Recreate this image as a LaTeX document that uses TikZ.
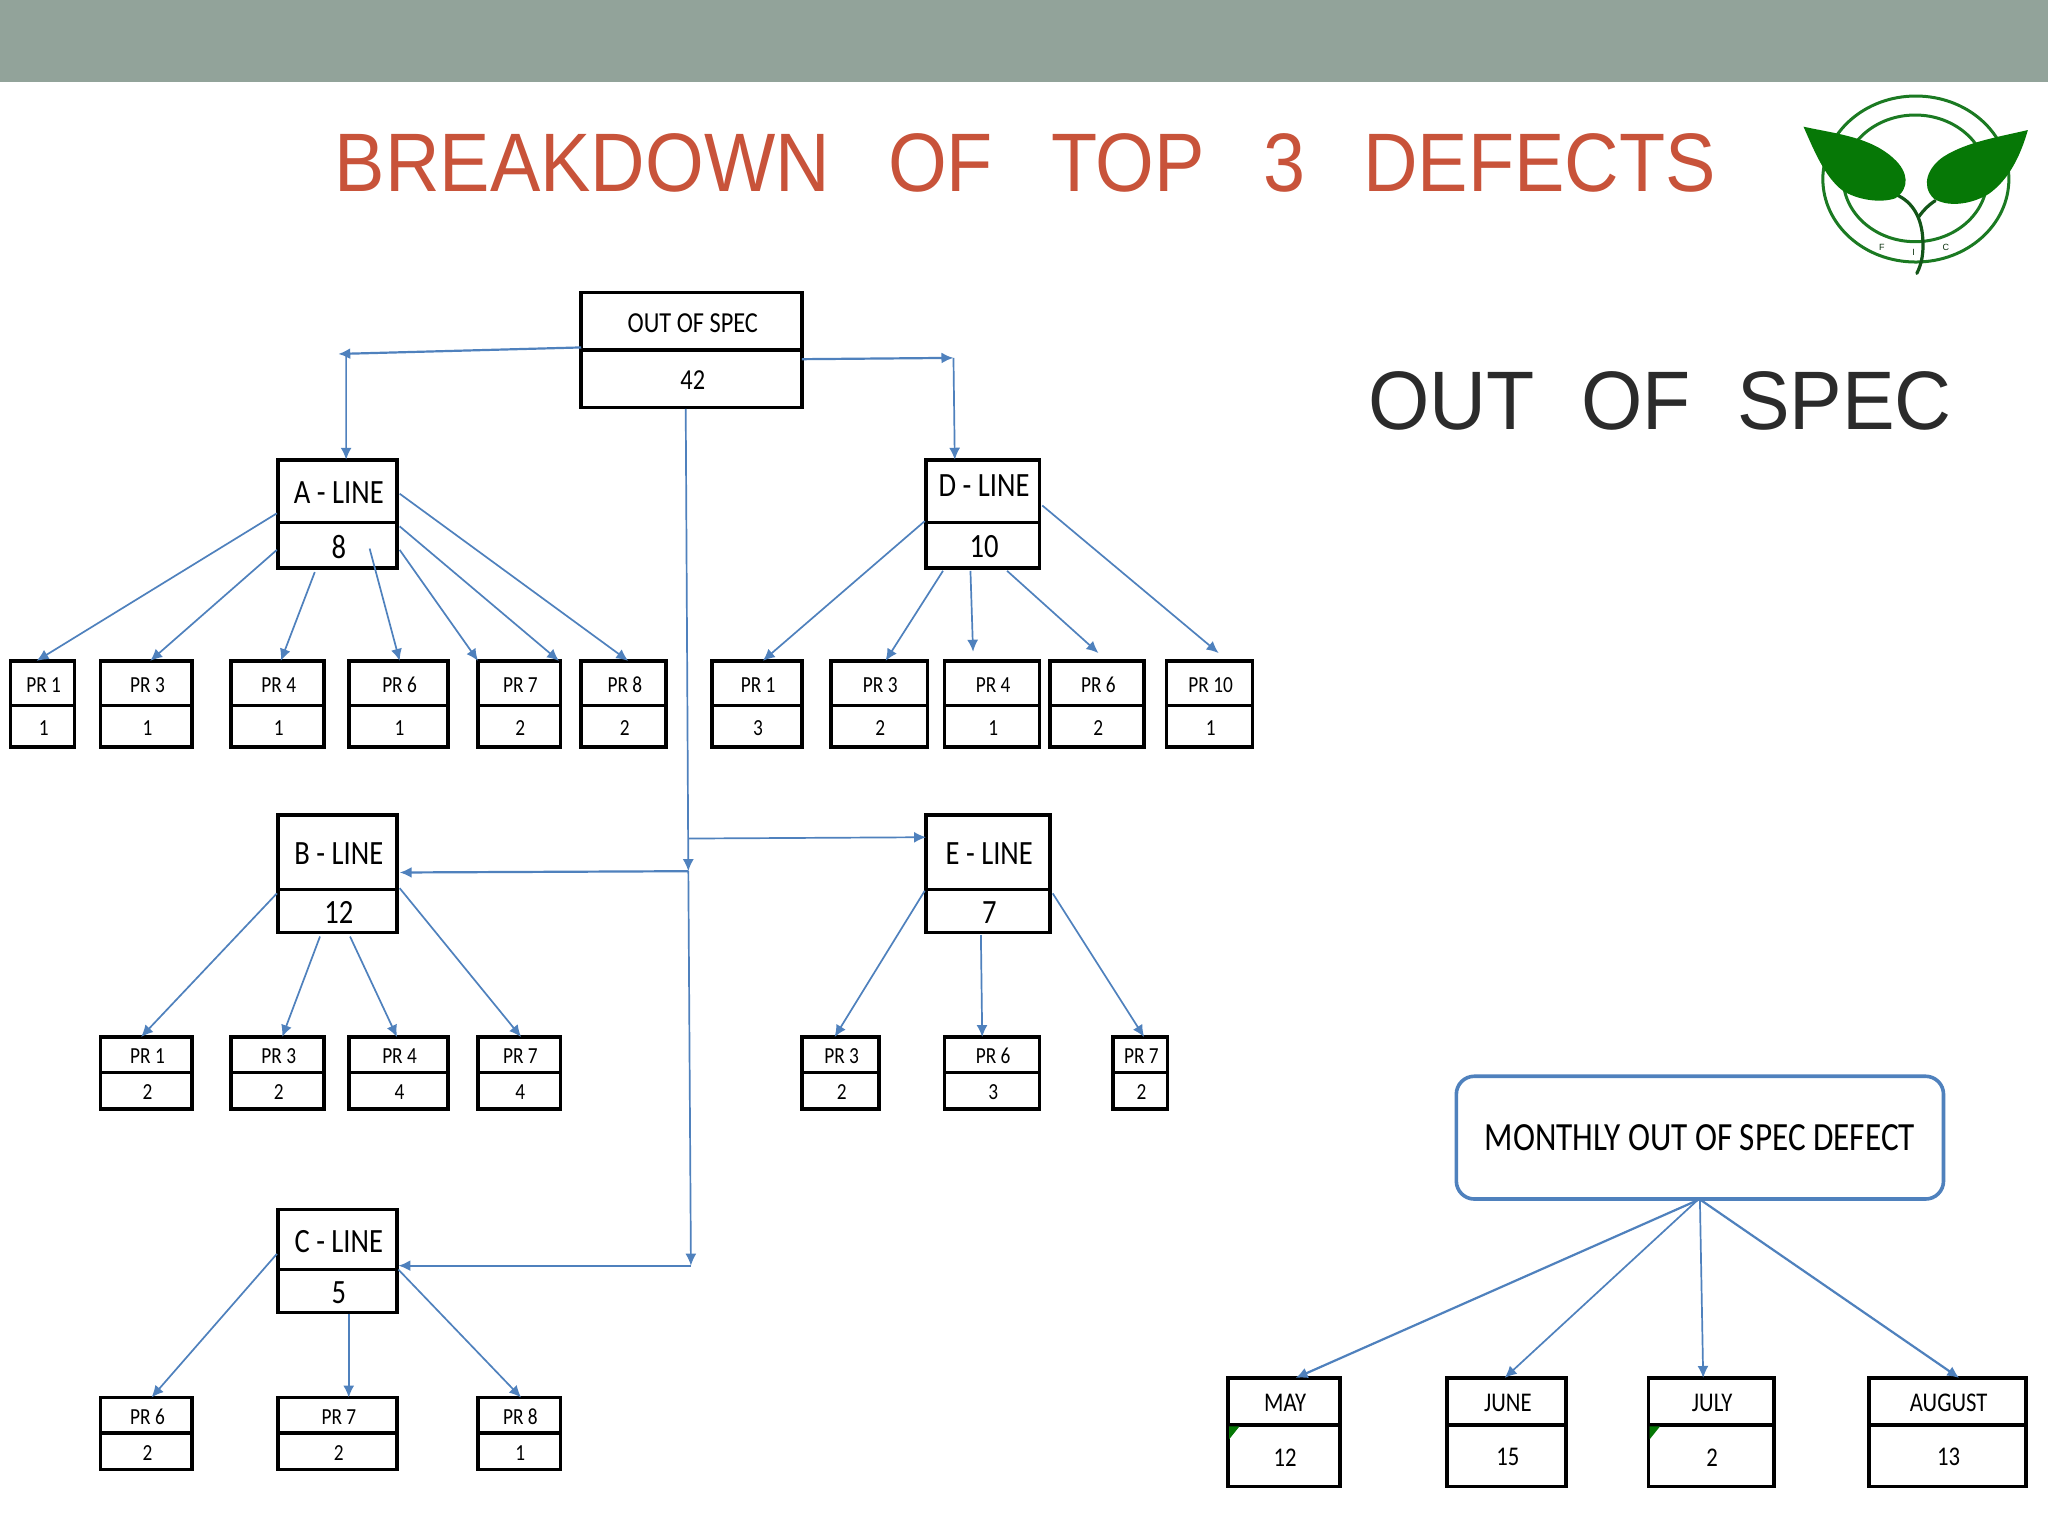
\documentclass[tikz,border=0pt]{standalone}
\usepackage{fontspec}
\setmainfont{Liberation Sans}
\newfontfamily\boxfont[FakeStretch=0.84]{Carlito}
\newfontfamily\wideboxfont[FakeStretch=0.83]{Carlito}
\newfontfamily\titlefont[FakeStretch=0.91]{Liberation Sans}
\newfontfamily\subfont[FakeStretch=0.95]{Liberation Sans}
\usetikzlibrary{arrows.meta}
\definecolor{band}{HTML}{92A39A}
\definecolor{titlered}{HTML}{C8533A}
\definecolor{darktext}{HTML}{2B2B2B}
\definecolor{link}{HTML}{4F81BD}
\definecolor{leaf}{HTML}{067806}
\definecolor{ring}{HTML}{1B7A22}
\tikzset{
  cell/.style={draw=black,line width=1.8pt,inner sep=0pt,outer sep=0pt,fill=white,text=black,anchor=center},
  conn/.style={draw=link,line width=0.85pt,-{Latex[length=6pt,width=5.5pt]}},
  fat/.style={line width=1.1pt},
  big/.style={font=\boxfont\fontsize{17}{18}\selectfont},
  mid/.style={font=\boxfont\fontsize{14.5}{16}\selectfont},
  small/.style={font=\boxfont\fontsize{11.5}{13}\selectfont},
  month/.style={font=\boxfont\fontsize{13.5}{15}\selectfont},
  leafshape/.style={fill=leaf,draw=none},
  ringline/.style={draw=ring,line width=1.5pt},
  stem/.style={draw=ring!70!black,line width=1.6pt,line cap=round},
  tick/.style={font=\fontsize{4.5}{5}\selectfont,text=black!60!ring},
}
% name, x0, x1, y0, ymid, y1, top text, bottom text, style
\newcommand\tb[9]{%
  \pgfmathsetmacro\cxx{(#2+#3)/2}%
  \pgfmathsetmacro\cya{(#4+#5)/2}%
  \pgfmathsetmacro\cyb{(#5+#6)/2}%
  \node[cell,#9,minimum width={(#3-#2)*0.653pt},minimum height={(#5-#4)*0.653pt}] (#1T) at (\cxx,\cya) {\hspace*{1.2pt}\raisebox{-0.8pt}[\height][\depth]{#7}};
  \node[cell,#9,minimum width={(#3-#2)*0.653pt},minimum height={(#6-#5)*0.653pt}] (#1B) at (\cxx,\cyb) {\hspace*{1.2pt}\raisebox{-0.8pt}[\height][\depth]{#8}};
}
% from node.anchor shift to node.anchor shift
\newcommand\cn[6]{\draw[conn] ([shift={(#2)}]#1) -- ([shift={(#4)}]#3);}
\begin{document}
\begin{tikzpicture}[x=0.653pt,y=-0.653pt]
\useasboundingbox (0,0) rectangle (1568,1176);
\fill[white] (0,0) rectangle (1568,1176);
\fill[band] (0,0) rectangle (1568,62.5);

\node[text=titlered,font=\titlefont\fontsize{41.5}{46}\selectfont,inner sep=0pt] (title) at (785,125) {BREAKDOWN\hspace{0.70em}OF\hspace{0.70em}TOP\hspace{0.70em}3\hspace{0.70em}DEFECTS};
\node[text=darktext,font=\subfont\fontsize{41.5}{46}\selectfont,inner sep=0pt] (sub) at (1271,307) {OUT\hspace{0.56em}OF\hspace{0.56em}SPEC};

% logo
\begin{scope}[x=0.16667pt,y=-0.16667pt,xshift=880pt,yshift=-35pt]
  \draw[ringline] (467,327) ellipse (279 and 249);
  \draw[ringline] (465,325) ellipse (216 and 190);
  \draw[stem] (410,375) .. controls (455,395) and (485,440) .. (488,510);
  \draw[stem] (488,510) .. controls (490,550) and (485,580) .. (470,610);
  \draw[stem] (525,392) .. controls (505,405) and (490,420) .. (476,440);
  \fill[leafshape] (130,170) .. controls (220,190) and (330,200) .. (400,265)
     .. controls (445,305) and (450,355) .. (405,385)
     .. controls (360,400) and (290,390) .. (245,360)
     .. controls (195,320) and (165,250) .. (130,170) -- cycle;
  \fill[leafshape] (803,180) .. controls (720,200) and (620,215) .. (550,260)
     .. controls (505,290) and (480,345) .. (520,385)
     .. controls (560,412) and (630,405) .. (685,372)
     .. controls (745,330) and (780,260) .. (803,180) -- cycle;
  \node[tick] (lf) at (365,531) {F};
  \node[tick] (li) at (460,546) {I};
  \node[tick] (lc) at (557,531) {C};
\end{scope}

% root
\tb{o}{445}{614}{224}{268}{312}{OUT OF SPEC}{42}{mid}
% lines
\tb{A}{213}{304}{352}{400}{435}{A - LINE}{8}{big}
\tb{D}{709}{796}{352}{400}{435}{\raisebox{3.4pt}[\height][\depth]{D - LINE}}{10}{big}
\tb{Bl}{213}{304}{624}{681}{714}{B - LINE}{12}{big}
\tb{E}{709}{804}{624}{681}{714}{E - LINE}{7}{big}
\tb{C}{213}{304}{926}{972}{1005}{C - LINE}{5}{big}
% row 1
\tb{a}{8}{57}{506}{540}{572}{PR 1}{1}{small}
\tb{b}{77}{147}{506}{540}{572}{PR 3}{1}{small}
\tb{c}{177}{248}{506}{540}{572}{PR 4}{1}{small}
\tb{d}{267}{343}{506}{540}{572}{PR 6}{1}{small}
\tb{e}{366}{429}{506}{540}{572}{PR 7}{2}{small}
\tb{f}{445}{510}{506}{540}{572}{PR 8}{2}{small}
\tb{g}{545}{614}{506}{540}{572}{PR 1}{3}{small}
\tb{h}{636}{710}{506}{540}{572}{PR 3}{2}{small}
\tb{i}{723}{796}{506}{540}{572}{PR 4}{1}{small}
\tb{j}{804}{876}{506}{540}{572}{PR 6}{2}{small}
\tb{k}{893}{959}{506}{540}{572}{PR 10}{1}{small}
% row 2
\tb{l}{77}{147}{794}{821}{849}{PR 1}{2}{small}
\tb{m}{177}{248}{794}{821}{849}{PR 3}{2}{small}
\tb{n}{267}{343}{794}{821}{849}{PR 4}{4}{small}
\tb{p}{366}{429}{794}{821}{849}{PR 7}{4}{small}
\tb{q}{614}{673}{794}{821}{849}{PR 3}{2}{small}
\tb{r}{723}{796}{794}{821}{849}{PR 6}{3}{small}
\tb{s}{852}{894}{794}{821}{849}{PR 7}{2}{small}
% row 3
\tb{t}{77}{147}{1070}{1097}{1125}{PR 6}{2}{small}
\tb{u}{213}{304}{1070}{1097}{1125}{PR 7}{2}{small}
\tb{v}{366}{429}{1070}{1097}{1125}{PR 8}{1}{small}
% months
\tb{may}{940}{1026}{1055}{1091}{1138}{MAY}{12}{month}
\tb{jun}{1108}{1199}{1055}{1091}{1138}{JUNE}{15}{month}
\tb{jul}{1262}{1358}{1055}{1091}{1138}{JULY}{2}{month}
\tb{aug}{1431}{1551}{1055}{1091}{1138}{AUGUST}{13}{month}
\fill[leaf] ([shift={(1,1)}]mayB.north west) -- ++(8,0) -- ++(-8,10) -- cycle;
\fill[leaf] ([shift={(1,1)}]julB.north west) -- ++(8,0) -- ++(-8,10) -- cycle;
% monthly box
\node[draw=link,line width=1.8pt,rounded corners=9pt,fill=white,inner sep=0pt,outer sep=0pt,
      minimum width={373*0.653pt},minimum height={94*0.653pt},
      font=\wideboxfont\fontsize{20}{22}\selectfont] (monthly) at (1301.5,871) {MONTHLY OUT OF SPEC DEFECT};

% free junctions
\coordinate (jl) at (259,271);
\coordinate (jla) at (265,271);
\coordinate (jr) at (730,274);
\coordinate (jb) at (527,667);
\coordinate (je) at (527.5,642);
\coordinate (jc) at (529,969);

% root connectors
\draw[conn,fat] ([shift={(0,-2)}]oT.south west) -- (jl);
\draw[conn] (jla) -- ([shift={(6.5,0)}]AT.north);
\draw[conn,fat] ([shift={(0,7)}]oT.south east) -- (jr);
\draw[conn] (jr) -- ([shift={(-21.5,0)}]DT.north);
\draw[conn] ([shift={(-4.5,1)}]oB.south) -- (jb);
\draw[conn] (jb) -- (jc);
\draw[conn] (je) -- ([shift={(0,-40)}]ET.south west);
\draw[conn,fat] (jb) -- ([shift={(2,-13)}]BlT.south east);
\draw[conn,fat] (jc) -- ([shift={(1,-3)}]CT.south east);

% A
\cn{AT.south west}{-1,-7}{aT.north}{-4.5,0}{}{}
\cn{AB.west}{-1,3.5}{bT.north}{3,0}{}{}
\cn{AB.south west}{28,3}{cT.north}{2.5,0}{}{}
\cn{AB.south}{24.5,-15}{dT.north}{1,0}{}{}
\cn{AB.east}{2,3.5}{eT.north west}{0,0}{}{}
\cn{AT.south east}{2,3}{eT.north east}{-1,0}{}{}
\cn{AT.east}{2,2}{fT.north}{3.5,0}{}{}
% D
\cn{DT.south west}{-1,-1}{gT.north}{4.5,0}{}{}
\cn{DB.south west}{13,2}{hT.north}{5,0}{}{}
\cn{DB.south}{-9.5,2}{iT.north}{-14.5,-7}{}{}
\cn{DB.south}{18.5,2}{jT.north}{1,-6}{}{}
\cn{DT.south east}{2,-13}{kT.north}{7,-6}{}{}
% B
\cn{BlB.north west}{-1,3}{lT.north}{-4,0}{}{}
\cn{BlB.south west}{32,3}{mT.north}{3.5,0}{}{}
\cn{BlB.south}{9.5,3}{nT.north}{-1,0}{}{}
\cn{BlB.north east}{2,-1}{pT.north}{1.5,0}{}{}
% E
\cn{EB.north west}{-1,1}{qT.north}{-4.5,0}{}{}
\cn{EB.south}{-5.5,2}{rT.north}{-7.5,0}{}{}
\cn{EB.north east}{2,3}{sT.north}{3,0}{}{}
% C
\cn{CT.south west}{-1,-12}{tT.north}{4,0}{}{}
\cn{CB.south}{8.5,1}{uT.north}{8.5,0}{}{}
\cn{CB.north east}{1,0}{vT.north}{1.5,0}{}{}
% months
\draw[conn,fat] ([shift={(-2,1)}]monthly.south) -- ([shift={(9,0)}]mayT.north);
\cn{monthly.south}{-2,1}{junT.north}{-1.5,0}{}{}
\cn{monthly.south}{0,1}{julT.north}{-6,0}{}{}
\draw[conn,fat] ([shift={(1,1)}]monthly.south) -- ([shift={(9,0)}]augT.north);
\end{tikzpicture}
\end{document}
